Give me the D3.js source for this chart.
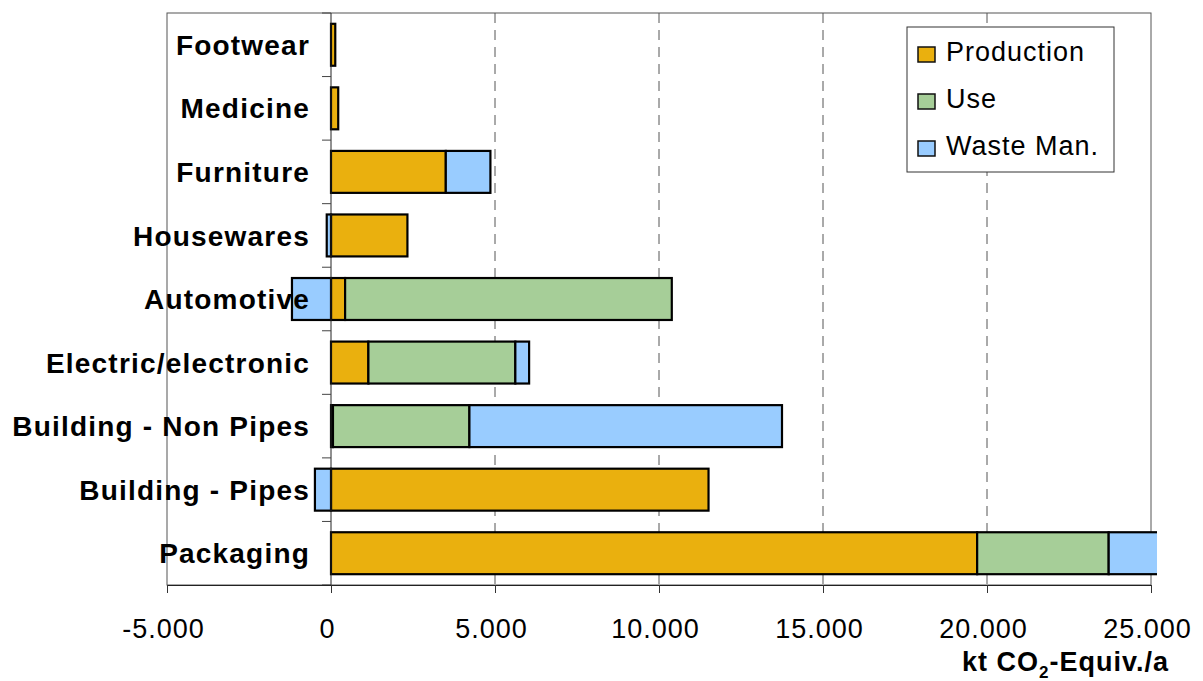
<!DOCTYPE html>
<html>
<head>
<meta charset="utf-8">
<script src="https://cdn.jsdelivr.net/npm/d3@7"></script>
<style>
  body { margin: 0; background: #fff; }
  text { font-family: "Liberation Sans", Arial, sans-serif; }
</style>
</head>
<body>
<svg width="1203" height="681"></svg>
<script>
// data, top to bottom as in the chart (kt CO2-Equiv./a)
var categories = ["Footwear", "Medicine", "Furniture", "Housewares", "Automotive",
  "Electric/electronic", "Building - Non Pipes", "Building - Pipes", "Packaging"]
var production = [130, 220, 3500, 2330, 430, 1140, 60, 11510, 19700]
var use = [0, 0, 0, 0, 9960, 4480, 4160, 0, 4010]
var waste = [0, 0, 1360, -130, -1190, 420, 9530, -490, 1700]
var seriesNames = ["Production", "Use", "Waste Man."]
var colors = ["#EAB00E", "#A6CE98", "#99CCFF"]
var xTicks = [-5000, 0, 5000, 10000, 15000, 20000, 25000]

var svg = d3.select("svg"),
    margin = {top: 13, right: 52, bottom: 96, left: 167},
    width = +svg.attr("width") - margin.left - margin.right,
    height = +svg.attr("height") - margin.top - margin.bottom

// german number format: 25.000, plain hyphen as minus
var de = d3.formatLocale({decimal: ",", thousands: ".", grouping: [3], currency: ["", ""], minus: "-"})
var fmt = de.format(",d")

var rows = categories.map(function(c, i) {
  return {cat: c, Production: production[i], Use: use[i], "Waste Man.": waste[i]}
})

var stack = d3.stack().keys(seriesNames).offset(d3.stackOffsetDiverging)
var series = stack(rows)

var x = d3.scaleLinear().domain([-5000, 25000]).range([0, width])
var y = d3.scaleBand().domain(categories).range([0, height])
    .paddingInner(0.34).paddingOuter(0.17)

var g = svg.append("g").attr("transform", "translate(" + margin.left + "," + margin.top + ")")

// plot frame
g.append("rect")
    .attr("width", width).attr("height", height)
    .attr("fill", "none").attr("stroke", "#555").attr("stroke-width", 1)

// dashed grid
g.selectAll(".grid").data(xTicks.filter(function(d) { return d > 0 && d < 25000 }))
  .enter().append("line")
    .attr("x1", function(d) { return x(d) }).attr("x2", function(d) { return x(d) })
    .attr("y1", 0).attr("y2", height)
    .attr("stroke", "#555").attr("stroke-dasharray", "10,7")

// the packaging bar runs a little past the frame and gets cut off there
g.append("clipPath").attr("id", "clip")
  .append("rect").attr("x", -10).attr("y", -5).attr("width", width + 16).attr("height", height + 10)

// bars
var layer = g.append("g").attr("clip-path", "url(#clip)")
  .selectAll("g").data(series).enter().append("g")
    .attr("fill", function(d, i) { return colors[i] })

layer.selectAll("rect")
  .data(function(d) { return d.filter(function(p) { return p[1] - p[0] !== 0 }) })
  .enter().append("rect")
    .attr("x", function(d) { return x(Math.min(d[0], d[1])) })
    .attr("width", function(d) { return Math.abs(x(d[1]) - x(d[0])) })
    .attr("y", function(d) { return y(d.data.cat) })
    .attr("height", y.bandwidth())
    .attr("stroke", "#000").attr("stroke-width", 2.2)

// y axis line at zero and ticks on band borders
var gap = y.step() * y.paddingInner() / 2
g.append("line")
    .attr("x1", x(0)).attr("x2", x(0)).attr("y1", 0).attr("y2", height)
    .attr("stroke", "#222")
var borders = categories.map(function(c) { return y(c) - gap }).concat([height])
g.selectAll(".ytick").data(borders).enter().append("line")
    .attr("x1", x(0) - 9).attr("x2", x(0))
    .attr("y1", function(d) { return d }).attr("y2", function(d) { return d })
    .attr("stroke", "#444")

// category labels
g.selectAll(".lab").data(categories).enter().append("text")
    .attr("x", x(0) - 21)
    .attr("y", function(d) { return y(d) + y.bandwidth() / 2 })
    .attr("dy", "0.36em")
    .attr("text-anchor", "end")
    .style("font-size", "28px").style("font-weight", "bold").style("letter-spacing", "1.2px")
    .text(function(d) { return d })

// x axis
var xAxis = g.append("g")
    .attr("transform", "translate(0," + height + ")")
    .call(d3.axisBottom(x).tickValues(xTicks).tickSize(8).tickPadding(26).tickFormat(fmt))
xAxis.select(".domain").attr("stroke", "#222")
xAxis.selectAll("line").attr("stroke", "#333")
xAxis.selectAll("text")
    .attr("dx", -4)
    .style("font-size", "27px").style("letter-spacing", "1px")
    .attr("fill", "#000")

// axis title
var title = svg.append("text")
    .attr("x", 1169).attr("y", 671)
    .attr("text-anchor", "end")
    .style("font-size", "27px").style("font-weight", "bold").style("letter-spacing", "1px")
title.append("tspan").text("kt CO")
title.append("tspan").attr("dy", 7).style("font-size", "17px").text("2")
title.append("tspan").attr("dy", -7).text("-Equiv./a")

// legend
var lg = svg.append("g").attr("transform", "translate(907,27)")
lg.append("rect").attr("width", 207).attr("height", 145)
    .attr("fill", "#fff").attr("stroke", "#333")
var item = lg.selectAll(".item").data(seriesNames).enter().append("g")
    .attr("transform", function(d, i) { return "translate(11," + (24.5 + i * 47) + ")" })
item.append("rect").attr("y", -4.5).attr("width", 17).attr("height", 15)
    .attr("fill", function(d, i) { return colors[i] })
    .attr("stroke", "#111").attr("stroke-width", 1.5)
item.append("text").attr("x", 28).attr("dy", "0.36em")
    .style("font-size", "27px").style("letter-spacing", "1px")
    .text(function(d) { return d })
</script>
</body>
</html>
